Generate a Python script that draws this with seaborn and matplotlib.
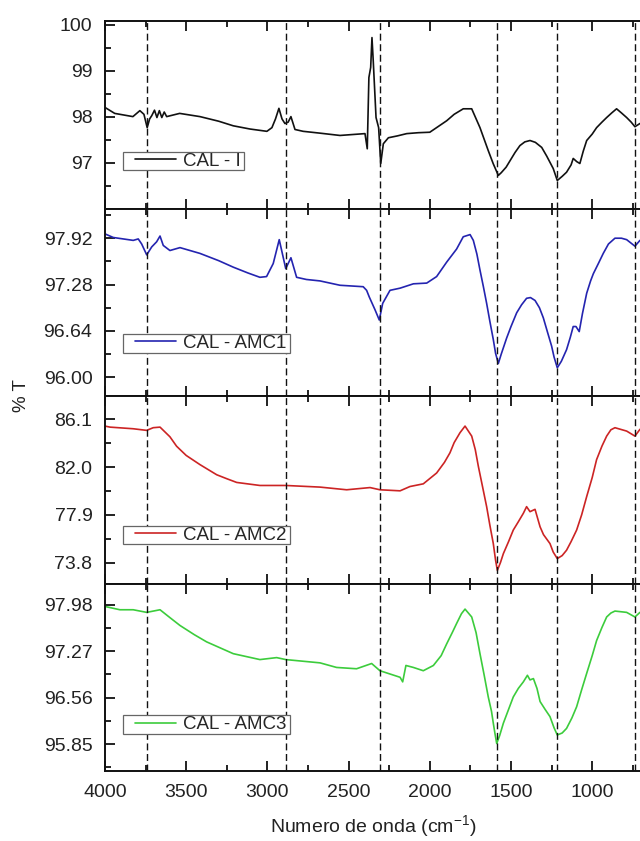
import numpy as np
import pandas as pd
import matplotlib
matplotlib.use("Agg")
import matplotlib.pyplot as plt
import seaborn as sns
from matplotlib.ticker import FixedLocator, FormatStrFormatter, MultipleLocator
from matplotlib.legend_handler import HandlerLine2D
from matplotlib.path import Path

# ---------------- data ----------------
wn_cal_i = [4000, 3940, 3828, 3785, 3760, 3740, 3725, 3712, 3695, 3680, 3665, 3650, 3635, 3620,
            3540, 3415, 3300, 3210, 3107, 3003, 2972, 2950, 2929, 2910, 2892, 2872, 2855, 2830,
            2780, 2676, 2553, 2399, 2385, 2375, 2364, 2356, 2348, 2331, 2315, 2302, 2286, 2255,
            2200, 2142, 2070, 2000, 1950, 1896, 1850, 1794, 1742, 1691, 1640, 1610, 1578, 1560,
            1530, 1506, 1475, 1445, 1415, 1383, 1350, 1311, 1280, 1240, 1215, 1185, 1158, 1130,
            1117, 1095, 1076, 1055, 1034, 1000, 973, 940, 911, 880, 850, 820, 788, 760, 737, 706]
t_cal_i = [98.20, 98.07, 98.00, 98.13, 98.05, 97.76, 97.95, 98.02, 98.14, 97.98, 98.13, 97.98, 98.10, 98.00,
           98.07, 98.00, 97.90, 97.80, 97.73, 97.68, 97.76, 97.95, 98.18, 97.95, 97.85, 97.88, 98.00, 97.72,
           97.68, 97.64, 97.59, 97.63, 97.30, 98.85, 99.07, 99.72, 99.20, 97.98, 97.76, 96.98, 97.41, 97.54,
           97.58, 97.63, 97.65, 97.66, 97.78, 97.91, 98.05, 98.17, 98.17, 97.76, 97.26, 96.98, 96.72, 96.78,
           96.90, 97.04, 97.22, 97.37, 97.45, 97.48, 97.44, 97.33, 97.14, 96.87, 96.61, 96.70, 96.79, 96.95,
           97.09, 97.02, 96.98, 97.25, 97.48, 97.62, 97.76, 97.88, 97.98, 98.08, 98.17, 98.08, 97.98, 97.88, 97.78, 97.85]

wn_amc1 = [4000, 3949, 3826, 3795, 3774, 3743, 3712, 3682, 3661, 3641, 3600, 3538, 3415, 3300, 3210,
           3120, 3046, 3005, 2964, 2927, 2912, 2887, 2855, 2820, 2760, 2676, 2553, 2410, 2389, 2373,
           2337, 2311, 2290, 2245, 2183, 2101, 2019, 1958, 1896, 1835, 1794, 1752, 1732, 1710, 1691,
           1670, 1650, 1630, 1609, 1595, 1578, 1560, 1527, 1500, 1465, 1435, 1404, 1380, 1352, 1325,
           1301, 1275, 1250, 1235, 1215, 1190, 1158, 1135, 1117, 1100, 1080, 1060, 1034, 1010, 993,
           960, 932, 900, 860, 820, 788, 737, 706]
t_amc1 = [97.98, 97.93, 97.89, 97.91, 97.84, 97.69, 97.80, 97.87, 97.95, 97.82, 97.75, 97.79, 97.71, 97.61, 97.52,
          97.44, 97.38, 97.39, 97.57, 97.90, 97.75, 97.50, 97.65, 97.38, 97.35, 97.33, 97.27, 97.25, 97.20, 97.11,
          96.93, 96.79, 97.02, 97.20, 97.23, 97.29, 97.30, 97.39, 97.59, 97.77, 97.94, 97.97, 97.89, 97.70, 97.48,
          97.25, 97.02, 96.77, 96.52, 96.33, 96.19, 96.32, 96.54, 96.70, 96.89, 97.00, 97.09, 97.10, 97.06, 96.96,
          96.82, 96.62, 96.43, 96.28, 96.13, 96.22, 96.38, 96.55, 96.70, 96.70, 96.63, 96.88, 97.16, 97.33, 97.43,
          97.58, 97.71, 97.84, 97.92, 97.92, 97.90, 97.81, 97.89]

wn_amc2 = [4000, 3969, 3826, 3743, 3703, 3661, 3600, 3559, 3500, 3415, 3312, 3250, 3189, 3046, 2887,
           2676, 2512, 2368, 2307, 2183, 2122, 2040, 1958, 1910, 1876, 1850, 1814, 1783, 1742, 1720,
           1701, 1675, 1650, 1630, 1609, 1595, 1584, 1565, 1547, 1515, 1486, 1455, 1424, 1404, 1383,
           1352, 1321, 1300, 1260, 1240, 1215, 1185, 1158, 1130, 1096, 1065, 1034, 1000, 973, 940,
           911, 885, 860, 788, 737, 706]
t_amc2 = [85.52, 85.43, 85.29, 85.15, 85.38, 85.43, 84.60, 83.79, 83.00, 82.21, 81.34, 81.00, 80.68, 80.42, 80.42,
          80.28, 80.05, 80.24, 80.05, 79.96, 80.33, 80.56, 81.49, 82.40, 83.22, 84.10, 84.95, 85.52, 84.66, 83.50,
          82.06, 80.30, 78.60, 77.00, 75.43, 74.00, 73.13, 73.80, 74.57, 75.60, 76.59, 77.30, 78.03, 78.60, 78.17,
          78.37, 76.87, 76.20, 75.43, 74.70, 74.14, 74.40, 74.86, 75.60, 76.59, 77.90, 79.47, 81.10, 82.64, 83.80,
          84.66, 85.20, 85.38, 85.09, 84.66, 85.24]

wn_amc3 = [4000, 3908, 3826, 3743, 3661, 3600, 3538, 3450, 3374, 3210, 3046, 2943, 2887, 2676, 2574,
           2451, 2358, 2307, 2183, 2167, 2147, 2101, 2040, 1978, 1930, 1896, 1860, 1835, 1805, 1783,
           1742, 1715, 1691, 1665, 1640, 1620, 1609, 1598, 1588, 1570, 1547, 1515, 1486, 1455, 1424,
           1399, 1383, 1362, 1340, 1321, 1290, 1260, 1235, 1215, 1185, 1158, 1125, 1096, 1065, 1034,
           1000, 973, 940, 911, 885, 860, 788, 737, 706]
t_amc3 = [97.95, 97.90, 97.90, 97.86, 97.90, 97.78, 97.66, 97.52, 97.41, 97.23, 97.14, 97.17, 97.14, 97.09, 97.02,
          97.00, 97.08, 96.97, 96.87, 96.80, 97.05, 97.02, 96.97, 97.05, 97.20, 97.38, 97.56, 97.69, 97.84, 97.91,
          97.79, 97.55, 97.23, 96.90, 96.57, 96.35, 96.17, 96.00, 95.86, 95.98, 96.17, 96.38, 96.57, 96.70, 96.80,
          96.90, 96.83, 96.85, 96.70, 96.50, 96.38, 96.27, 96.10, 95.99, 96.02, 96.09, 96.25, 96.42, 96.68, 96.93,
          97.20, 97.43, 97.63, 97.79, 97.85, 97.88, 97.86, 97.79, 97.86]

series_names = ["CAL - I", "CAL - AMC1", "CAL - AMC2", "CAL - AMC3"]
series_colors = ["#111111", "#2424b0", "#cc2424", "#3ccc3c"]

yticks_i = [97, 98, 99, 100]
yticks_amc1 = [96.00, 96.64, 97.28, 97.92]
yticks_amc2 = [73.8, 77.9, 82.0, 86.1]
yticks_amc3 = [95.85, 96.56, 97.27, 97.98]

marker_wn = [3740, 2887, 2307, 1588, 1215, 735]
xticks = [4000, 3500, 3000, 2500, 2000, 1500, 1000]

# ---------------- style ----------------
sns.set_theme(style="ticks")
plt.rcParams['font.family'] = ['Liberation Sans', 'DejaVu Sans']
plt.rcParams['mathtext.fontset'] = 'custom'
plt.rcParams['mathtext.rm'] = 'Liberation Sans'
plt.rcParams['mathtext.it'] = 'Liberation Sans:italic'
plt.rcParams['mathtext.default'] = 'regular'

fig = plt.figure(figsize=(6.4, 8.41), dpi=100)

left, width = 0.164, 0.84
top, bottom = 0.975, 0.0832
h = (top - bottom) / 4

panels = [
    (wn_cal_i, t_cal_i, yticks_i, (96.0, 100.08), "%.0f", 0.5, 0.186),
    (wn_amc1, t_amc1, yticks_amc1, (95.74, 98.33), "%.2f", 0.32, 0.213),
    (wn_amc2, t_amc2, yticks_amc2, (72.0, 88.1), "%.1f", 2.05, 0.19),
    (wn_amc3, t_amc3, yticks_amc3, (95.44, 98.30), "%.2f", 0.355, 0.18),
]


class PadHandler(HandlerLine2D):
    def get_xdata(self, legend, xdescent, ydescent, width, height, fontsize):
        xd, xm = super().get_xdata(legend, xdescent, ydescent, width, height, fontsize)
        xd = np.asarray(xd, dtype=float)
        xd[0] = xd[0] + 0.16 * width
        return xd, xm


def tight_box(x0, y0, width, height, mutation_size):
    dy = 3.5
    x1, y1 = x0 + width, y0 + height
    return Path([(x0, y0 + dy), (x1, y0 + dy), (x1, y1 - dy), (x0, y1 - dy), (x0, y0 + dy)], closed=True)


for i, (wn, tv, yt, ylim, fmt, minor, leg_y) in enumerate(panels):
    ax = fig.add_axes([left, top - (i + 1) * h, width, h])
    df = pd.DataFrame({"wn": wn, "T": tv})
    sns.lineplot(data=df, x="wn", y="T", ax=ax, color=series_colors[i], lw=1.2,
                 label=series_names[i], sort=True, estimator=None)
    for xv in marker_wn:
        ax.axvline(xv, color="#111111", lw=1.0, ls=(0, (5, 2.6)), zorder=3)
    ax.set_xlim(4000, 690)
    ax.set_ylim(*ylim)
    ax.set_xlabel("")
    ax.set_ylabel("")
    ax.xaxis.set_major_locator(FixedLocator(xticks))
    ax.xaxis.set_minor_locator(MultipleLocator(250))
    ax.yaxis.set_major_locator(FixedLocator(yt))
    ax.yaxis.set_minor_locator(MultipleLocator(minor, offset=yt[0] % minor))
    ax.yaxis.set_major_formatter(FormatStrFormatter(fmt))
    ax.tick_params(axis="both", which="both", direction="in", top=True, bottom=True,
                   left=True, right=False, width=1.3, colors="#111111", labelcolor="#222222")
    ax.tick_params(axis="both", which="major", length=7, labelsize=14, pad=9)
    ax.tick_params(axis="both", which="minor", length=4.3)
    if i < 3:
        ax.tick_params(axis="x", labelbottom=False)
    for sp in ax.spines.values():
        sp.set_linewidth(1.4)
        sp.set_color("#111111")
    ax.spines["right"].set_visible(False)

    leg = ax.legend(loc="lower left", bbox_to_anchor=(0.033, leg_y), borderaxespad=0,
                    fontsize=13.5, frameon=True, fancybox=False, edgecolor="#666666",
                    framealpha=1, borderpad=0.22, handlelength=2.6, handletextpad=0.37,
                    handler_map={matplotlib.lines.Line2D: PadHandler()})
    leg.get_frame().set_linewidth(0.9)
    leg.legendPatch.set_boxstyle(tight_box)
    if i == 3:
        ax.set_xlabel("Numero de onda (cm$^{-1}$)", fontsize=14, labelpad=9, color="#222222")

fig.text(0.033, 0.530, "% T", rotation=90, ha="center", va="center", fontsize=13.5, color="#222222")

fig.savefig("out.png", dpi=100)
